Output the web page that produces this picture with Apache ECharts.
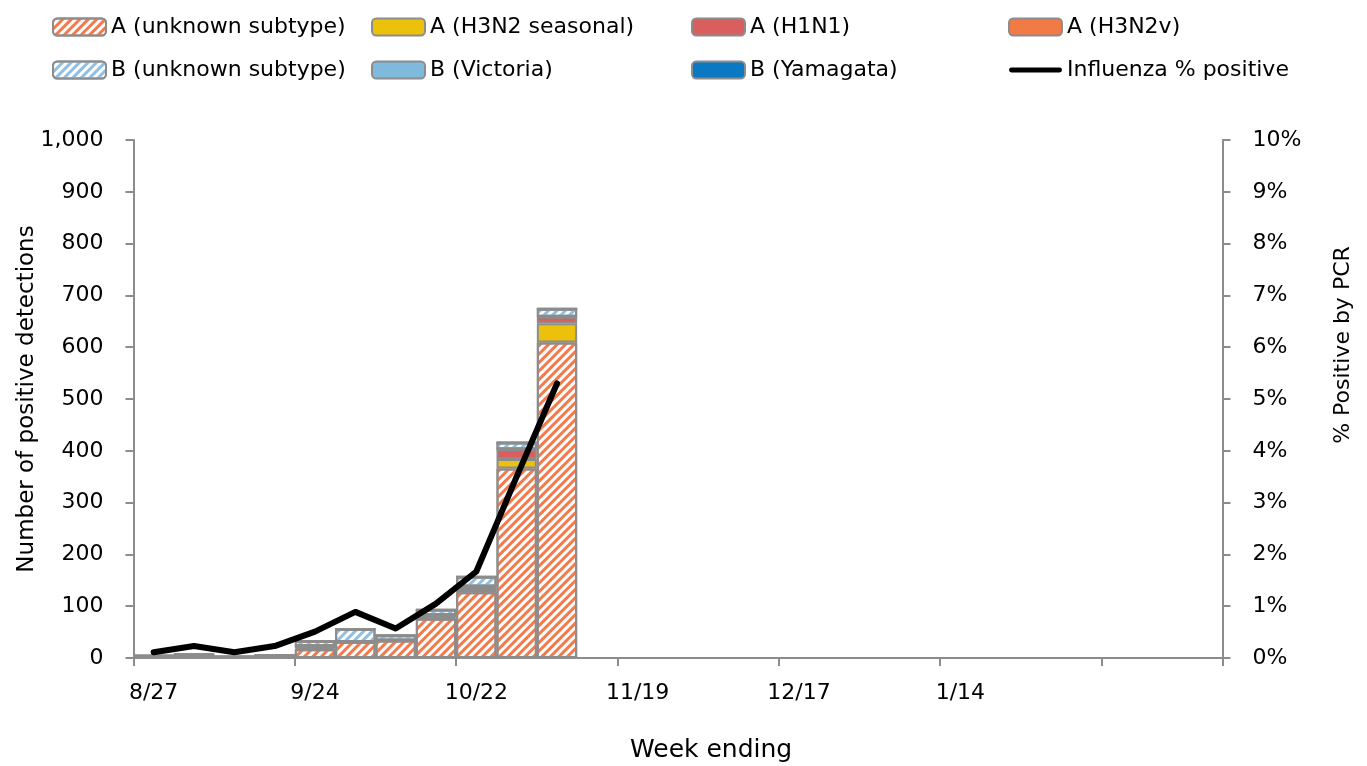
<!DOCTYPE html>
<html>
<head>
<meta charset="utf-8">
<script src="https://cdn.jsdelivr.net/npm/echarts@6/dist/echarts.min.js"></script>
<style>
  html, body { margin: 0; padding: 0; background: #fff; }
  #chart { width: 1367px; height: 766px; }
</style>
</head>
<body>
<div id="chart"></div>
<script>
// week ending dates
const weeks = ['8/27', '9/3', '9/10', '9/17', '9/24', '10/1', '10/8', '10/15', '10/22', '10/29',
  '11/5', '11/12', '11/19', '11/26', '12/3', '12/10', '12/17', '12/24', '12/31', '1/7',
  '1/14', '1/21', '1/28', '2/4', '2/11', '2/18', '2/25'];
const tickLabels = ['8/27', '9/24', '10/22', '11/19', '12/17', '1/14'];

// positive detections per week (only first 11 weeks reported)
const aUnknown = [3, 6, 2, 4, 17, 31, 34, 76, 127, 366, 609];
const aH3N2 = [0, 0, 0, 0, 2, 0, 0, 2, 6, 18, 37];
const aH1N1 = [0, 0, 0, 0, 4, 0, 0, 5, 5, 19, 13];
const aH3N2v = [0, 0, 0, 0, 0, 0, 0, 0, 0, 0, 0];
const bUnknown = [2, 1, 1, 2, 10, 25, 10, 10, 19, 13, 15];
const bVictoria = [0, 0, 0, 0, 0, 0, 0, 0, 0, 0, 0];
const bYamagata = [0, 0, 0, 0, 0, 0, 0, 0, 0, 0, 0];
// influenza % positive by PCR
const pctPositive = [0.11, 0.23, 0.11, 0.23, 0.51, 0.89, 0.57, 1.05, 1.67, 3.5, 5.3];

const FONT = 'DejaVu Sans';
const BORDER = '#8c8c8c';

function stripes(color) {
  return {
    symbol: 'rect',
    symbolSize: 1,
    color: color,
    dashArrayX: [1, 0],
    dashArrayY: [3, 3],
    rotation: -Math.PI / 4
  };
}

function barSeries(name, data, color, hatch) {
  return {
    name: name,
    type: 'bar',
    stack: 'flu',
    barCategoryGap: '0%',
    data: data,
    itemStyle: {
      color: hatch ? '#ffffff' : color,
      borderColor: BORDER,
      borderWidth: 2,
      decal: hatch ? stripes(color) : null
    },
    emphasis: { disabled: true }
  };
}

const chart = echarts.init(document.getElementById('chart'));

const legendBase = {
  orient: 'vertical',
  top: 16,
  padding: 0,
  itemWidth: 53,
  itemHeight: 17,
  itemGap: 21,
  textStyle: { fontFamily: FONT, fontSize: 22, color: '#000' },
  selectedMode: false
};

chart.setOption({
  animation: false,
  textStyle: { fontFamily: FONT },
  legend: [
    Object.assign({}, legendBase, { left: 52, data: ['A (unknown subtype)', 'B (unknown subtype)'] }),
    Object.assign({}, legendBase, { left: 371, data: ['A (H3N2 seasonal)', 'B (Victoria)'] }),
    Object.assign({}, legendBase, { left: 691, data: ['A (H1N1)', 'B (Yamagata)'] }),
    Object.assign({}, legendBase, {
      left: 1008,
      data: ['A (H3N2v)', { name: 'Influenza % positive', icon: 'path://M2,0H51A2,2 0 0 1 51,5H2A2,2 0 0 1 2,0Z' }]
    })
  ],
  title: {
    text: 'Week ending',
    left: 625,
    top: 733,
    textStyle: { fontFamily: FONT, fontSize: 25, fontWeight: 'normal', color: '#000' }
  },
  grid: { left: 133.5, right: 144.5, top: 140, bottom: 108 },
  xAxis: {
    type: 'category',
    data: weeks,
    boundaryGap: true,
    axisLine: { lineStyle: { color: BORDER, width: 2 } },
    axisTick: {
      show: true,
      interval: function (i) { return i % 4 === 0; },
      length: 8,
      lineStyle: { color: BORDER, width: 2 }
    },
    axisLabel: {
      interval: 0,
      margin: 24,
      fontSize: 22,
      color: '#000',
      formatter: function (v) { return tickLabels.indexOf(v) >= 0 ? v : ''; }
    },
    splitLine: { show: false }
  },
  yAxis: [
    {
      type: 'value',
      min: 0,
      max: 1000,
      interval: 100,
      name: 'Number of positive detections',
      nameLocation: 'middle',
      nameGap: 95,
      nameMoveOverlap: false,
      nameTextStyle: { fontSize: 23, color: '#000' },
      axisLine: { show: true, lineStyle: { color: BORDER, width: 2 } },
      axisTick: { show: true, length: 8, lineStyle: { color: BORDER, width: 2 } },
      axisLabel: {
        fontSize: 22,
        color: '#000',
        margin: 30,
        formatter: function (v) { return v.toLocaleString('en-US'); }
      },
      splitLine: { show: false }
    },
    {
      type: 'value',
      min: 0,
      max: 10,
      interval: 1,
      position: 'right',
      name: '% Positive by PCR',
      nameLocation: 'middle',
      nameGap: 110,
      nameMoveOverlap: false,
      nameRotate: 90,
      nameTextStyle: { fontSize: 22, color: '#000', padding: [0, 0, 0, 108] },
      axisLine: { show: true, lineStyle: { color: BORDER, width: 2 } },
      axisTick: { show: true, length: 8, lineStyle: { color: BORDER, width: 2 } },
      axisLabel: { fontSize: 22, color: '#000', margin: 30, formatter: '{value}%' },
      splitLine: { show: false }
    }
  ],
  series: [
    barSeries('A (unknown subtype)', aUnknown, '#f4794b', true),
    barSeries('A (H3N2 seasonal)', aH3N2, '#ebc10c', false),
    barSeries('A (H1N1)', aH1N1, '#d95f5f', false),
    barSeries('A (H3N2v)', aH3N2v, '#f27a45', false),
    barSeries('B (unknown subtype)', bUnknown, '#8fc0e3', true),
    barSeries('B (Victoria)', bVictoria, '#7fb9dc', false),
    barSeries('B (Yamagata)', bYamagata, '#0b78c2', false),
    {
      name: 'Influenza % positive',
      type: 'line',
      yAxisIndex: 1,
      data: pctPositive,
      symbol: 'none',
      lineStyle: { color: '#000', width: 6, cap: 'round', join: 'round' },
      itemStyle: { color: '#000' },
      emphasis: { disabled: true },
      z: 5
    }
  ]
});
</script>
</body>
</html>
